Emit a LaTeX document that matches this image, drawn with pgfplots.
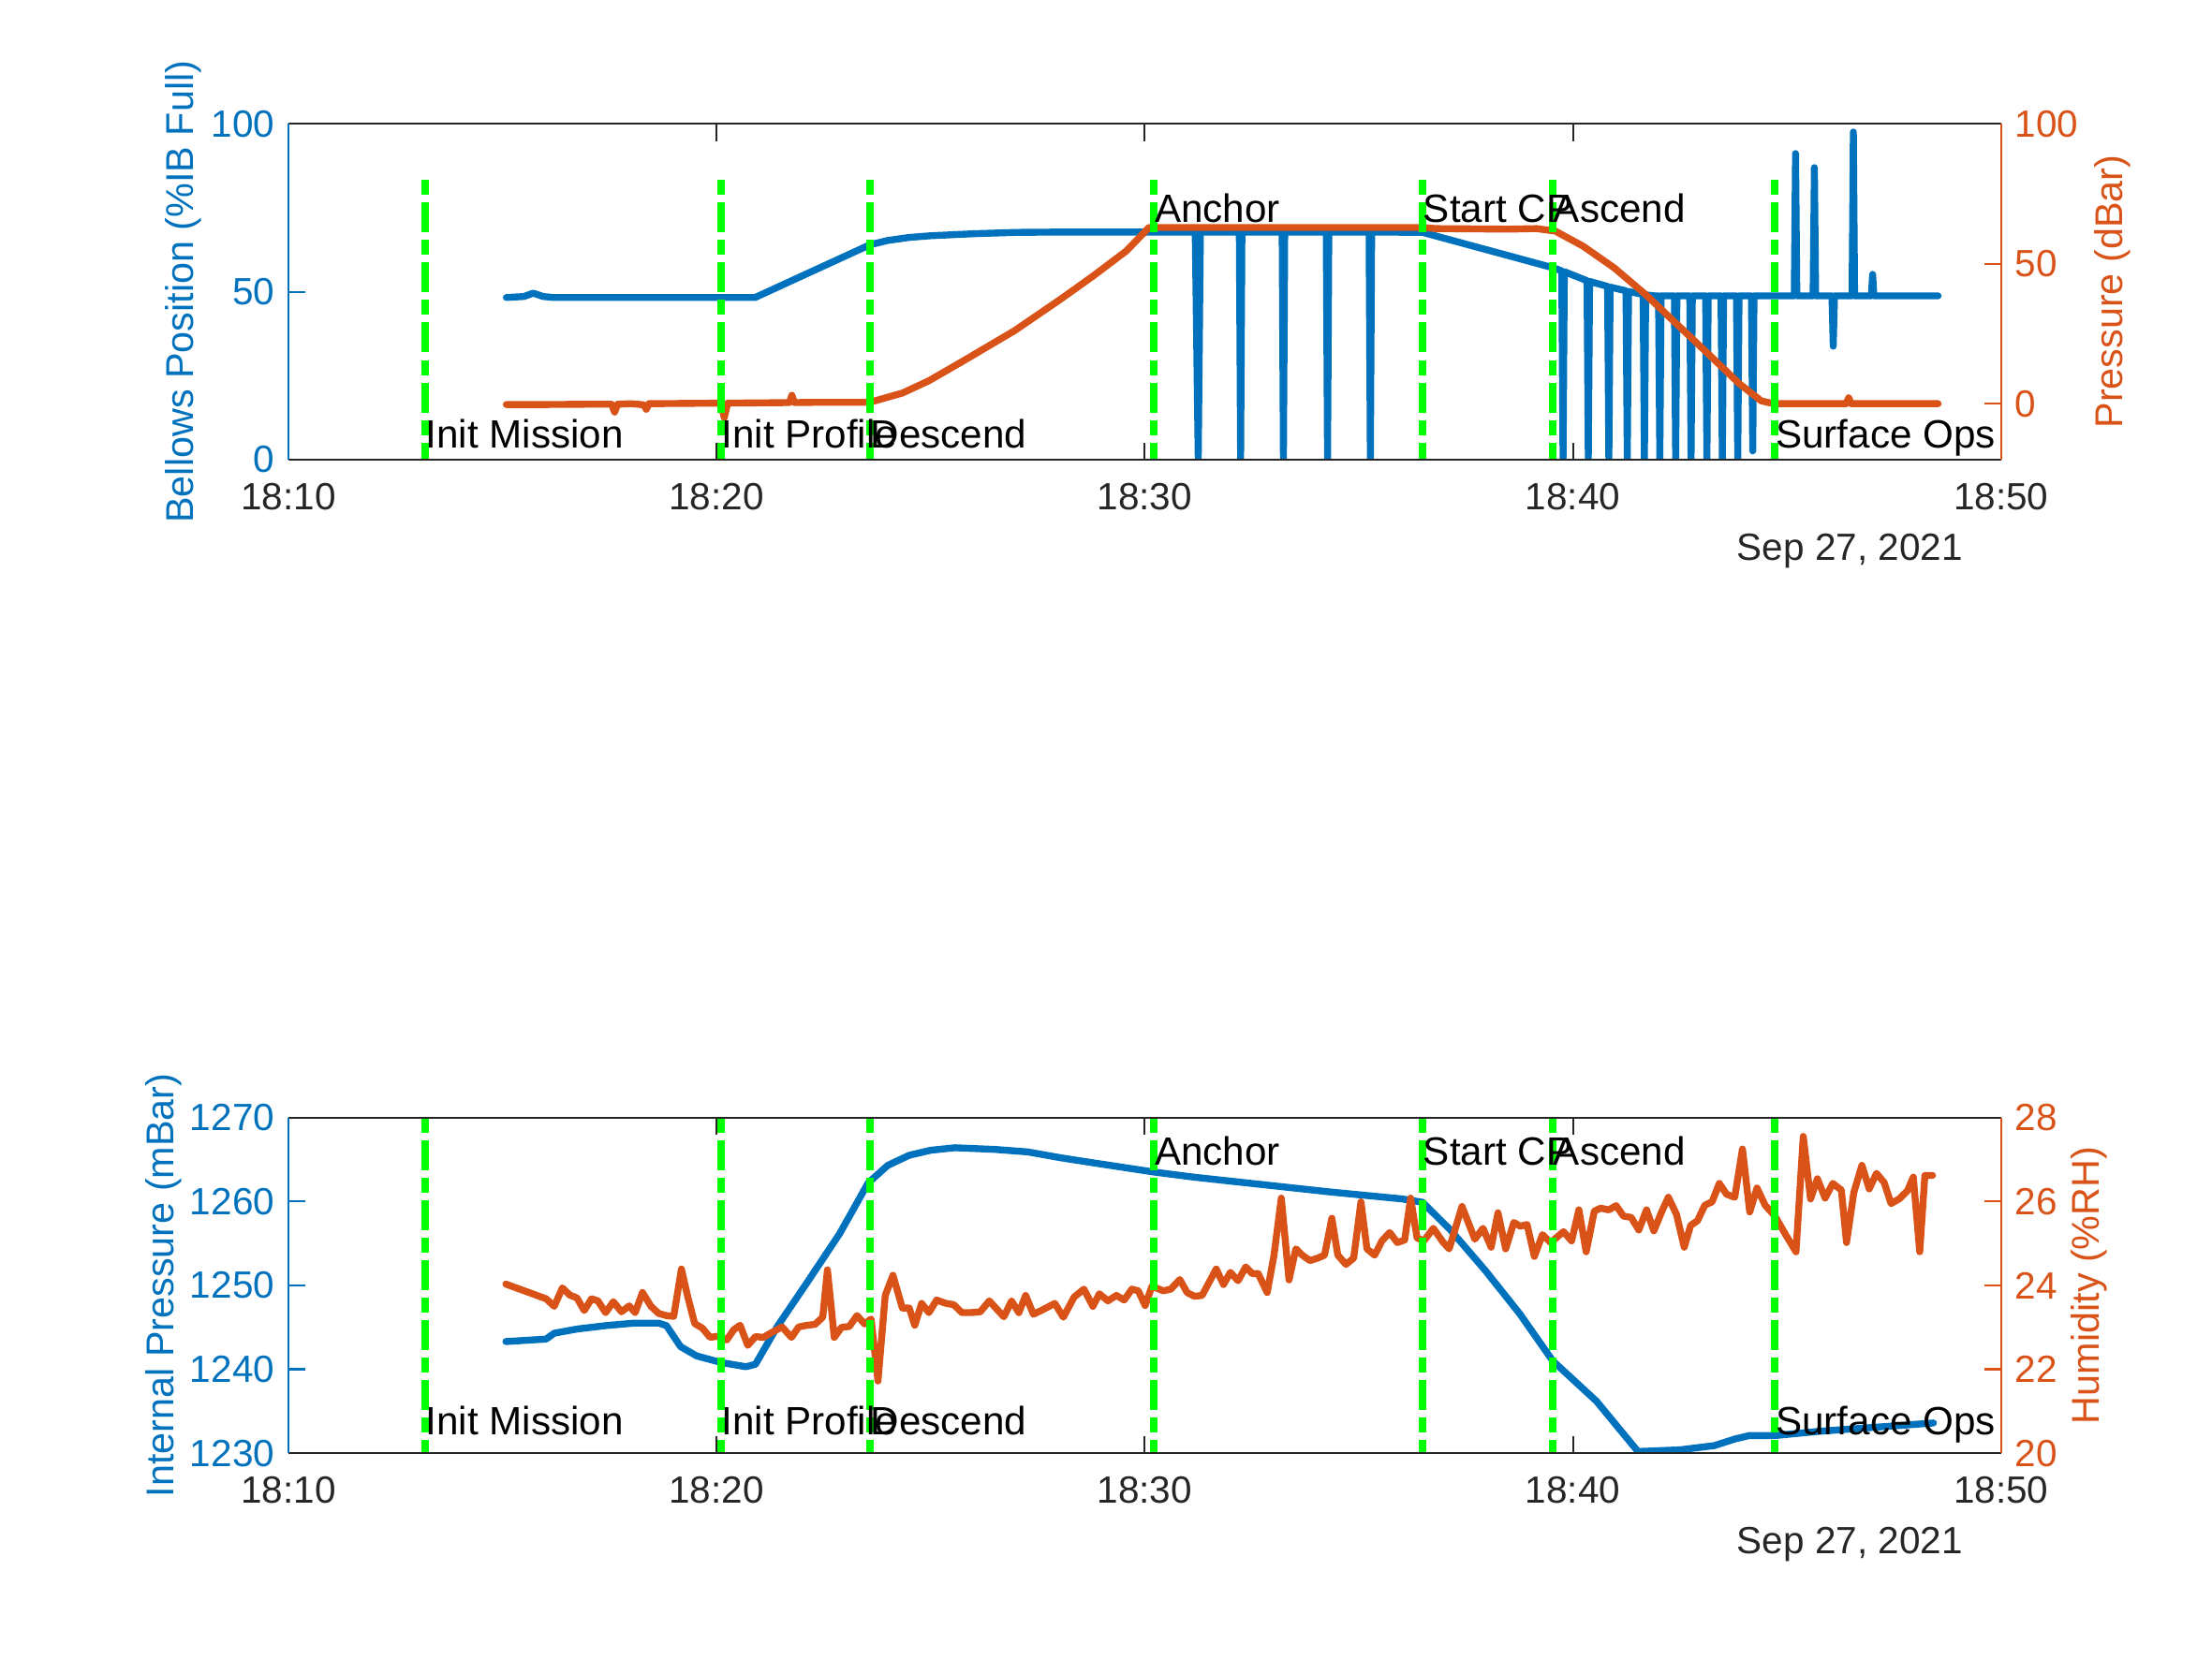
\documentclass[border=0pt]{standalone}
\usepackage{pgfplots}
\pgfplotsset{compat=1.18}
\usepackage{fontspec}
\setmainfont{Liberation Sans}
\definecolor{mblue}{RGB}{0,114,189}
\definecolor{morange}{RGB}{217,83,25}
\definecolor{mgreen}{RGB}{0,255,0}
\definecolor{agray}{RGB}{38,38,38}
\newcommand{\tickfont}{\fontsize{9.6bp}{11bp}\selectfont}
\newcommand{\labfont}{\fontsize{9.8bp}{11bp}\selectfont}
\newcommand{\txtfont}{\fontsize{10bp}{12bp}\selectfont}
\tikzset{
  evline/.style={mgreen, line width=1.9bp, dash pattern=on 3.8bp off 1.9bp on 7.6bp off 1.9bp, line cap=butt},
  ev/.style={font=\txtfont, anchor=base west, inner sep=0pt, text=black},
}
\pgfplotsset{
  base/.style={scale only axis, width=433.6bp, height=85bp, xmin=10, xmax=50,
    axis line style={draw=none}, tick align=inside, major tick length=4.3bp,
    tick label style={font=\tickfont},
    /pgf/number format/assume math mode=true,
    every axis plot/.append style={line width=1.75bp, line join=round, line cap=round}},
  leftax/.style={base, xtick={10,20,30,40,50},
    xticklabels={18:10,18:20,18:30,18:40,18:50},
    xtick pos=both, ytick pos=left,
    x tick style={draw=agray, line width=0.5pt},
    y tick style={draw=mblue, line width=0.5pt},
    yticklabel style={text=mblue},
    xticklabel style={text=agray, yshift=-2.5bp}},
  rightax/.style={base, xtick=\empty, ytick pos=right, yticklabel pos=right, clip=false,
    y tick style={draw=morange, line width=0.5pt},
    yticklabel style={text=morange}},
}
\begin{document}
\begin{tikzpicture}
\useasboundingbox (0,0) rectangle (560bp,420bp);
% ================= TOP =================
\begin{axis}[leftax, at={(73bp,303.6bp)}, anchor=south west,
  ymin=0, ymax=100, ytick={0,50,100}, yticklabels={0,50,100}]
\addplot[mblue] coordinates {
(15.09,48.3) (15.5,48.6) (15.72,49.6) (15.95,48.6) (16.2,48.3) (20.9,48.3)
(23.58,64.0) (24.0,65.3) (24.5,66.2) (25.0,66.7) (26.0,67.3) (27.0,67.7) (28.0,67.8)
(31.18,67.8) (31.25,0) (31.30,67.8)
(32.21,67.8) (32.24,0) (32.27,67.8)
(33.21,67.8) (33.24,0) (33.27,67.8)
(34.24,67.8) (34.27,0) (34.30,67.8)
(35.24,67.8) (35.27,0) (35.30,67.8)
(36.49,67.7) (39.15,58.5) (39.58,57.0)
(39.74,56.2) (39.77,0) (39.80,56.0)
(40.31,53.4) (40.33,53.3) (40.36,0) (40.39,53.1)
(40.81,51.6) (40.84,0) (40.87,51.4)
(41.24,50.3) (41.27,0) (41.30,50.1)
(41.64,49.2) (41.67,0) (41.70,49.1) (41.9,48.8)
(42.00,48.8) (42.03,0) (42.06,48.8)
(42.37,48.8) (42.40,0) (42.43,48.8)
(42.73,48.8) (42.76,0) (42.79,48.8)
(43.10,48.8) (43.13,0) (43.16,48.8)
(43.46,48.8) (43.49,0) (43.52,48.8)
(43.82,48.8) (43.85,0) (43.88,48.8)
(44.17,48.8) (44.20,2.6) (44.23,48.8)
(45.17,48.8) (45.20,91.2) (45.23,48.8)
(45.61,48.8) (45.64,87.0) (45.67,48.8)
(46.05,48.8) (46.08,33.8) (46.11,48.8)
(46.52,48.8) (46.55,97.6) (46.58,48.8)
(46.97,48.8) (47.00,55.2) (47.03,48.8)
(48.53,48.8)
};
\end{axis}
\begin{axis}[rightax, at={(73bp,303.6bp)}, anchor=south west,
  ymin=-20, ymax=100, ytick={0,50,100}, yticklabels={0,50,100}]
\addplot[morange] coordinates {
(15.09,-0.3) (16.0,-0.3) (17.0,-0.2) (17.55,-0.2) (17.62,-3.0) (17.69,-0.2)
(18.0,0) (18.3,-0.4) (18.36,-2.0) (18.42,0) (20.1,0.2) (20.18,-5.0) (20.26,0.2)
(21.0,0.3) (21.7,0.4) (21.76,3.0) (21.82,0.4) (22.5,0.5) (23.58,0.5)
(24.34,3.8) (24.96,8.2) (25.73,15.0) (26.96,26.1) (28.03,37.3) (28.80,45.7)
(29.57,54.6) (30.1,63.0) (33.0,63.0) (36.5,63.0) (36.8,62.6) (38.5,62.4)
(39.15,62.6) (39.59,61.7) (40.24,56.3) (40.97,48.5) (41.70,39.0) (42.43,28.4)
(43.16,17.8) (43.89,7.1) (44.40,1.0) (44.69,0) (46.38,0) (46.44,2.1) (46.50,0)
(48.53,0)
};
\addplot[evline] coordinates {(13.19,80) (13.19,-20)};
\addplot[evline] coordinates {(20.10,80) (20.10,-20)};
\addplot[evline] coordinates {(23.58,80) (23.58,-20)};
\addplot[evline] coordinates {(30.22,80) (30.22,-20)};
\addplot[evline] coordinates {(36.49,80) (36.49,-20)};
\addplot[evline] coordinates {(39.53,80) (39.53,-20)};
\addplot[evline] coordinates {(44.72,80) (44.72,-20)};
\node[ev] at (axis cs:13.19,-15.74) {Init Mission};
\node[ev] at (axis cs:20.10,-15.74) {Init Profile};
\node[ev] at (axis cs:23.58,-15.74) {Descend};
\node[ev] at (axis cs:30.22,64.7) {Anchor};
\node[ev] at (axis cs:36.49,64.7) {Start CP};
\node[ev] at (axis cs:39.53,64.7) {Ascend};
\node[ev] at (axis cs:44.72,-15.74) {Surface Ops};
\draw[agray, line width=0.5pt] (rel axis cs:0,0) -- (rel axis cs:1,0);
\draw[agray, line width=0.5pt] (rel axis cs:0,1) -- (rel axis cs:1,1);
\draw[mblue, line width=0.5pt] (rel axis cs:0,0) -- (rel axis cs:0,1);
\draw[morange, line width=0.5pt] (rel axis cs:1,0) -- (rel axis cs:1,1);
\end{axis}
\node[rotate=90, text=mblue, font=\labfont] at (46.5bp,346.1bp) {Bellows Position (\%IB Full)};
\node[rotate=90, text=morange, font=\labfont] at (534.9bp,346.1bp) {Pressure (dBar)};
\node[anchor=base east, inner sep=0pt, font=\tickfont, text=agray] at (497.1bp,278.2bp) {Sep 27, 2021};
% ================= BOTTOM =================
\begin{axis}[leftax, at={(73bp,52bp)}, anchor=south west,
  ymin=1230, ymax=1270, ytick={1230,1240,1250,1260,1270},
  yticklabels={1230,1240,1250,1260,1270}]
\addplot[mblue] coordinates {
(15.08,1243.3) (16.02,1243.6) (16.21,1244.3) (16.75,1244.8) (17.41,1245.2)
(18.07,1245.5) (18.65,1245.5) (18.83,1245.2) (19.16,1242.7) (19.53,1241.6)
(20.11,1240.8) (20.69,1240.3) (20.91,1240.6) (21.42,1245.1) (22.15,1250.6)
(22.88,1256.2) (23.54,1262.2) (24.0,1264.3) (24.50,1265.5) (25.0,1266.1) (25.57,1266.4) (26.50,1266.2)
(27.27,1265.9) (28.04,1265.2) (28.80,1264.6) (30.22,1263.5) (31.14,1262.9)
(32.76,1262.0) (34.39,1261.1) (35.20,1260.7) (36.01,1260.3) (36.49,1259.9)
(37.14,1256.6) (37.95,1251.8) (38.76,1246.6) (39.53,1241.0) (40.55,1236.2)
(41.52,1230.2) (42.50,1230.4) (43.30,1230.9) (43.79,1231.7) (44.12,1232.1)
(44.72,1232.1) (45.74,1232.6) (47.36,1233.2) (48.42,1233.6)
};
\end{axis}
\begin{axis}[rightax, at={(73bp,52bp)}, anchor=south west,
  ymin=20, ymax=28, ytick={20,22,24,26,28}, yticklabels={20,22,24,26,28}]
\addplot[morange] coordinates {
(15.08,24.03) (16.02,23.68) (16.21,23.50) (16.40,23.94) (16.57,23.77) (16.74,23.70)
(16.91,23.40) (17.08,23.68) (17.23,23.63) (17.41,23.35) (17.59,23.61) (17.78,23.37)
(17.96,23.51) (18.10,23.35) (18.27,23.83) (18.47,23.50) (18.65,23.33) (18.83,23.28)
(19.00,23.26) (19.18,24.39) (19.32,23.76) (19.49,23.09) (19.67,22.98) (19.85,22.76)
(20.04,22.79) (20.24,22.70) (20.40,22.94) (20.55,23.05) (20.73,22.57) (20.91,22.78)
(21.09,22.76) (21.28,22.87) (21.53,23.01) (21.75,22.76) (21.92,23.01) (22.12,23.05)
(22.30,23.07) (22.48,23.24) (22.59,24.37) (22.75,22.76) (22.92,23.00) (23.10,23.02)
(23.28,23.28) (23.46,23.08) (23.61,23.20) (23.77,21.72) (23.94,23.76) (24.12,24.24)
(24.34,23.46) (24.50,23.46) (24.63,23.05) (24.79,23.57) (24.96,23.35) (25.14,23.65)
(25.36,23.57) (25.54,23.54) (25.73,23.35) (25.94,23.35) (26.16,23.37) (26.37,23.63)
(26.71,23.25) (26.89,23.63) (27.06,23.35) (27.22,23.76) (27.40,23.31) (27.62,23.42)
(27.90,23.57) (28.10,23.24) (28.35,23.72) (28.58,23.91) (28.79,23.50) (28.94,23.80)
(29.14,23.63) (29.34,23.76) (29.52,23.65) (29.70,23.91) (29.85,23.87) (30.01,23.52)
(30.17,23.98) (30.43,23.87) (30.61,23.91) (30.82,24.14) (30.99,23.83) (31.16,23.74)
(31.34,23.76) (31.67,24.39) (31.84,24.02) (32.00,24.31) (32.18,24.11) (32.36,24.44)
(32.51,24.28) (32.65,24.28) (32.86,23.83) (33.02,24.72) (33.19,26.08) (33.37,24.13)
(33.53,24.87) (33.68,24.72) (33.86,24.59) (34.04,24.65) (34.20,24.72) (34.37,25.60)
(34.51,24.72) (34.70,24.50) (34.88,24.65) (35.05,25.99) (35.19,24.87) (35.37,24.72)
(35.54,25.06) (35.72,25.26) (35.90,25.02) (36.07,25.08) (36.21,26.08) (36.36,25.13)
(36.52,25.06) (36.74,25.36) (36.96,25.04) (37.11,24.87) (37.41,25.88) (37.71,25.10)
(37.90,25.36) (38.09,24.91) (38.25,25.73) (38.43,24.87) (38.62,25.50) (38.77,25.41)
(38.93,25.45) (39.10,24.69) (39.29,25.21) (39.48,25.02) (39.78,25.28) (39.97,25.06)
(40.14,25.80) (40.31,24.80) (40.50,25.77) (40.65,25.84) (40.84,25.80) (41.01,25.90)
(41.18,25.65) (41.36,25.62) (41.54,25.32) (41.72,25.80) (41.89,25.30) (42.08,25.77)
(42.23,26.10) (42.42,25.69) (42.60,24.91) (42.75,25.43) (42.91,25.54) (43.08,25.91)
(43.25,25.99) (43.42,26.43) (43.59,26.17) (43.78,26.10) (43.96,27.25) (44.13,25.75)
(44.30,26.32) (44.49,25.91) (44.72,25.65) (44.95,25.24) (45.21,24.80) (45.38,27.55)
(45.55,26.06) (45.71,26.54) (45.89,26.08) (46.07,26.43) (46.27,26.27) (46.39,25.02)
(46.56,26.21) (46.75,26.86) (46.92,26.30) (47.09,26.67) (47.27,26.45) (47.43,25.95)
(47.62,26.06) (47.81,26.25) (47.95,26.58) (48.10,24.80) (48.22,26.62) (48.40,26.62)
};
\addplot[evline] coordinates {(13.19,28) (13.19,20)};
\addplot[evline] coordinates {(20.10,28) (20.10,20)};
\addplot[evline] coordinates {(23.58,28) (23.58,20)};
\addplot[evline] coordinates {(30.22,28) (30.22,20)};
\addplot[evline] coordinates {(36.49,28) (36.49,20)};
\addplot[evline] coordinates {(39.53,28) (39.53,20)};
\addplot[evline] coordinates {(44.72,28) (44.72,20)};
\node[ev] at (axis cs:13.19,20.45) {Init Mission};
\node[ev] at (axis cs:20.10,20.45) {Init Profile};
\node[ev] at (axis cs:23.58,20.45) {Descend};
\node[ev] at (axis cs:30.22,26.86) {Anchor};
\node[ev] at (axis cs:36.49,26.86) {Start CP};
\node[ev] at (axis cs:39.53,26.86) {Ascend};
\node[ev] at (axis cs:44.72,20.45) {Surface Ops};
\draw[agray, line width=0.5pt] (rel axis cs:0,0) -- (rel axis cs:1,0);
\draw[agray, line width=0.5pt] (rel axis cs:0,1) -- (rel axis cs:1,1);
\draw[mblue, line width=0.5pt] (rel axis cs:0,0) -- (rel axis cs:0,1);
\draw[morange, line width=0.5pt] (rel axis cs:1,0) -- (rel axis cs:1,1);
\end{axis}
\node[rotate=90, text=mblue, font=\labfont] at (41.4bp,94.5bp) {Internal Pressure (mBar)};
\node[rotate=90, text=morange, font=\labfont] at (528.8bp,94.5bp) {Humidity (\%RH)};
\node[anchor=base east, inner sep=0pt, font=\tickfont, text=agray] at (497.1bp,26.6bp) {Sep 27, 2021};
\end{tikzpicture}
\end{document}
